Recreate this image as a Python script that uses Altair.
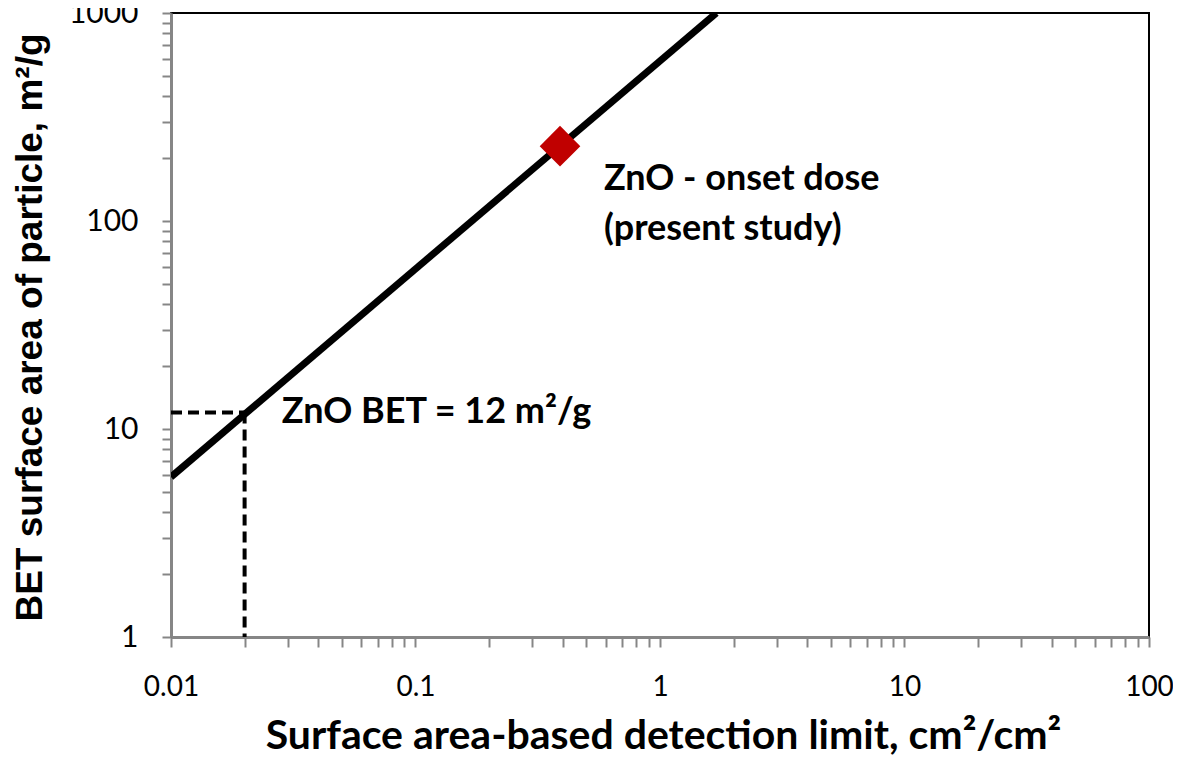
import altair as alt
import pandas as pd

# Data
line_x = [0.01, 1.70]
line_y = [5.88, 1000.0]

point_x = [0.39]
point_y = [229.0]

dash_x = [0.01, 0.02, 0.02, 0.02]
dash_y = [12.0, 12.0, 12.0, 1.0]
dash_seg = ["h", "h", "v", "v"]

label_text = ["ZnO BET = 12 m²/g", "ZnO - onset dose", "(present study)"]
label_x = [0.0284, 0.59, 0.59]
label_y = [12.1, 160.0, 92.0]

x_ticks = [0.01, 0.02, 0.03, 0.04, 0.05, 0.06, 0.07, 0.08, 0.09,
           0.1, 0.2, 0.3, 0.4, 0.5, 0.6, 0.7, 0.8, 0.9,
           1, 2, 3, 4, 5, 6, 7, 8, 9,
           10, 20, 30, 40, 50, 60, 70, 80, 90, 100]
y_ticks = [1, 2, 3, 4, 5, 6, 7, 8, 9,
           10, 20, 30, 40, 50, 60, 70, 80, 90,
           100, 200, 300, 400, 500, 600, 700, 800, 900, 1000]

FONT = "Lato"
GREY = "#868686"

xscale = alt.Scale(type="log", domain=[0.01, 100], nice=False)
yscale = alt.Scale(type="log", domain=[1, 1000], nice=False)

label_expr = ("abs(log(datum.value)/LN10 - round(log(datum.value)/LN10)) < 1e-6 "
              "? format(datum.value, '~g') : ''")

xaxis = alt.Axis(
    values=x_ticks, labelExpr=label_expr, grid=False,
    title="Surface area-based detection limit, cm²/cm²",
    titleFont=FONT, titleFontSize=41, titleFontWeight="bold", titleColor="black",
    titleX=492, titleY=99, titleBaseline="middle",
    labelFont=FONT, labelFontSize=28, labelColor="black", labelPadding=26,
    labelOverlap=False, labelFlush=False,
    domainColor=GREY, domainWidth=3, tickColor=GREY, tickWidth=2, tickSize=10,
)
yaxis = alt.Axis(
    values=y_ticks, labelExpr=label_expr, grid=False,
    title="BET surface area of particle, m²/g",
    titleFont="Liberation Sans", titleFontSize=37, titleFontWeight="bold", titleColor="black",
    titleX=-141, titleY=314, titleBaseline="middle",
    labelFont=FONT, labelFontSize=30, labelColor="black", labelPadding=24,
    labelOverlap=False, labelFlush=False,
    domainColor=GREY, domainWidth=3, tickColor=GREY, tickWidth=2, tickSize=9,
)

X = alt.X("x:Q", scale=xscale, axis=xaxis)
Y = alt.Y("y:Q", scale=yscale, axis=yaxis)

line_df = pd.DataFrame({"x": line_x, "y": line_y})
pt_df = pd.DataFrame({"x": point_x, "y": point_y})
dash_df = pd.DataFrame({"x": dash_x, "y": dash_y, "seg": dash_seg})
lab_df = pd.DataFrame({"x": label_x, "y": label_y, "t": label_text})

main = alt.Chart(line_df).mark_line(color="black", strokeWidth=7, clip=True).encode(x=X, y=Y)

dashes = alt.Chart(dash_df).mark_line(color="black", strokeWidth=4, strokeDash=[11, 6]).encode(
    x=X, y=Y, detail="seg:N",
)

pts = alt.Chart(pt_df).mark_point(shape="diamond", filled=True, color="#C00000",
                                  size=1650, opacity=1).encode(x=X, y=Y)

labels = alt.Chart(lab_df).mark_text(align="left", baseline="middle", font=FONT,
                                     fontSize=36, fontWeight="bold", color="black").encode(
    x=X, y=Y, text="t:N",
)

chart = alt.layer(main, dashes, pts, labels).properties(
    width=978, height=624,
    autosize=alt.AutoSizeParams(type="none"),
    padding={"left": 163, "top": 5, "right": 24, "bottom": 120},
).configure_view(stroke="black", strokeWidth=2)

chart.save("out.html", embed_options={"renderer": "svg", "actions": False})
